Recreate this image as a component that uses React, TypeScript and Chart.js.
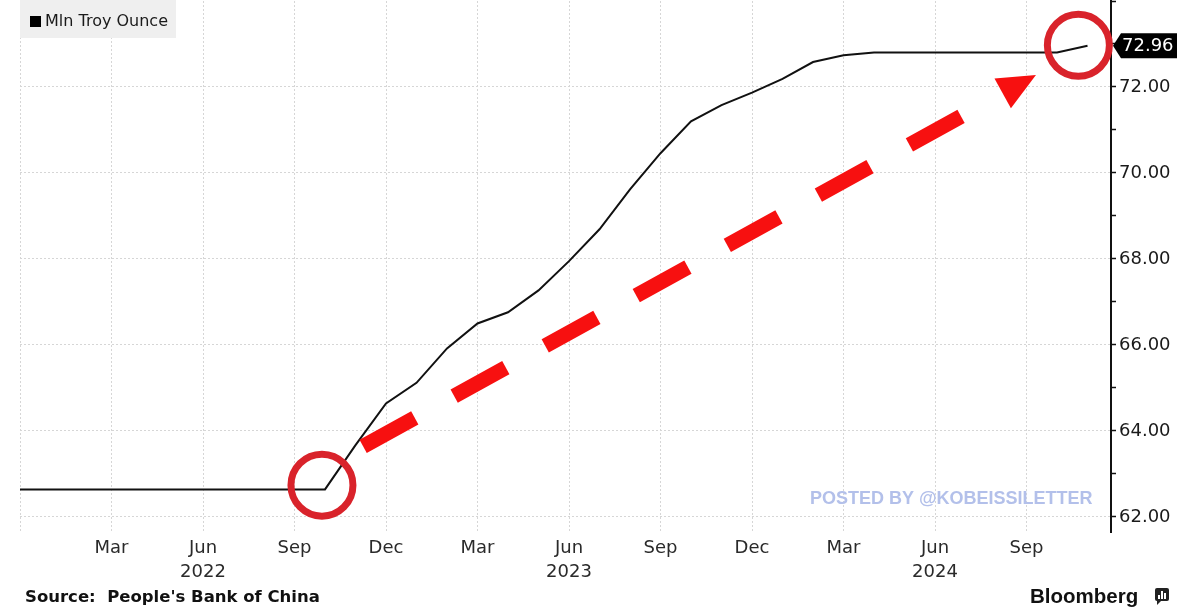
import { useEffect, useRef } from 'react';
import { Chart, registerables } from 'chart.js';

Chart.register(...registerables);

// Monthly gold reserves, Dec 2021 .. Nov 2024 (index 0 = Dec 2021)
const MONTHS = [
  '2021-12', '2022-01', '2022-02', '2022-03', '2022-04', '2022-05', '2022-06',
  '2022-07', '2022-08', '2022-09', '2022-10', '2022-11', '2022-12',
  '2023-01', '2023-02', '2023-03', '2023-04', '2023-05', '2023-06',
  '2023-07', '2023-08', '2023-09', '2023-10', '2023-11', '2023-12',
  '2024-01', '2024-02', '2024-03', '2024-04', '2024-05', '2024-06',
  '2024-07', '2024-08', '2024-09', '2024-10', '2024-11',
];
const HOLDINGS = [
  62.64, 62.64, 62.64, 62.64, 62.64, 62.64, 62.64,
  62.64, 62.64, 62.64, 62.64, 63.67, 64.64,
  65.12, 65.92, 66.5, 66.76, 67.27, 67.95,
  68.69, 69.62, 70.46, 71.2, 71.58, 71.87,
  72.19, 72.58, 72.74, 72.8, 72.8, 72.8,
  72.8, 72.8, 72.8, 72.8, 72.96,
];

const X_TICK_POS = [0, 3, 6, 9, 12, 15, 18, 21, 24, 27, 30, 33];
const X_TICK_LABELS: (string | string[])[] = [
  '', 'Mar', ['Jun', '2022'], 'Sep', 'Dec', 'Mar', ['Jun', '2023'], 'Sep', 'Dec', 'Mar', ['Jun', '2024'], 'Sep',
];
const Y_TICKS = [62, 63, 64, 65, 66, 67, 68, 69, 70, 71, 72, 73, 74];
const Y_LABELED = [62, 64, 66, 68, 70, 72];

const SERIES_NAME = 'Mln Troy Ounce';
const SOURCE_TEXT = "Source:  People's Bank of China";
const BRAND_TEXT = 'Bloomberg';
const WATERMARK = 'POSTED BY @KOBEISSILETTER';

// annotation anchors in data space: [month index, value]
const CIRCLE_START: [number, number] = [9.9, 62.74];
const CIRCLE_END: [number, number] = [34.7, 72.97];
const ARROW_FROM: [number, number] = [11.25, 63.64];
const ARROW_TO: [number, number] = [33.31, 72.28];

const overlay = {
  id: 'overlay',
  afterDraw(chart: any) {
    const { ctx, scales } = chart;
    const xs = scales.x;
    const ys = scales.y;
    const px = (p: [number, number]) => [xs.getPixelForValue(p[0]), ys.getPixelForValue(p[1])];

    ctx.save();

    // series key box
    ctx.fillStyle = '#efefef';
    ctx.fillRect(20, 0, 156, 38);
    ctx.fillStyle = '#000';
    ctx.fillRect(30, 16, 11, 11);
    ctx.fillStyle = '#1a1a1a';
    ctx.font = '16px "DejaVu Sans"';
    ctx.textBaseline = 'middle';
    ctx.textAlign = 'left';
    ctx.fillText(SERIES_NAME, 45, 22);

    // watermark
    ctx.fillStyle = '#b3c0ea';
    ctx.font = 'bold 18px "Liberation Sans"';
    ctx.fillText(WATERMARK, 810, 499);

    // dashed arrow
    const [ax, ay] = px(ARROW_FROM);
    const [bx, by] = px(ARROW_TO);
    const len = Math.hypot(bx - ax, by - ay);
    const ux = (bx - ax) / len;
    const uy = (by - ay) / len;
    const headLen = 38;
    const headHalf = 17;
    const shaftEnd = len - headLen - 5;
    ctx.strokeStyle = '#f71010';
    ctx.lineWidth = 15;
    ctx.lineCap = 'butt';
    const dash = 59;
    const period = 104;
    for (let s = 0; s < shaftEnd; s += period) {
      const e = Math.min(s + dash, shaftEnd);
      ctx.beginPath();
      ctx.moveTo(ax + ux * s, ay + uy * s);
      ctx.lineTo(ax + ux * e, ay + uy * e);
      ctx.stroke();
    }
    const baseX = bx - ux * headLen;
    const baseY = by - uy * headLen;
    ctx.fillStyle = '#f71010';
    ctx.beginPath();
    ctx.moveTo(bx, by);
    ctx.lineTo(baseX - uy * headHalf, baseY + ux * headHalf);
    ctx.lineTo(baseX + uy * headHalf, baseY - ux * headHalf);
    ctx.closePath();
    ctx.fill();

    // highlight circles
    ctx.strokeStyle = '#d9232b';
    ctx.lineWidth = 7;
    for (const c of [CIRCLE_START, CIRCLE_END]) {
      const [cx, cy] = px(c);
      ctx.beginPath();
      ctx.arc(cx, cy, 31, 0, Math.PI * 2);
      ctx.stroke();
    }

    // latest value tag on the axis
    const last = HOLDINGS[HOLDINGS.length - 1];
    const ly = ys.getPixelForValue(last);
    const lx = chart.chartArea.right + 2;
    ctx.fillStyle = '#000';
    ctx.beginPath();
    ctx.moveTo(lx, ly);
    ctx.lineTo(lx + 8, ly - 12.5);
    ctx.lineTo(lx + 64, ly - 12.5);
    ctx.lineTo(lx + 64, ly + 12.5);
    ctx.lineTo(lx + 8, ly + 12.5);
    ctx.closePath();
    ctx.fill();
    ctx.fillStyle = '#fff';
    ctx.font = '18px "DejaVu Sans"';
    ctx.textBaseline = 'middle';
    ctx.fillText(last.toFixed(2), lx + 9, ly + 1);

    // footer
    ctx.fillStyle = '#111';
    ctx.font = 'bold 16.5px "DejaVu Sans"';
    ctx.fillText(SOURCE_TEXT, 25, 598);
    ctx.font = 'bold 20.5px "Liberation Sans"';
    ctx.fillText(BRAND_TEXT, 1030, 597);

    // brand mark
    ctx.fillStyle = '#222';
    ctx.beginPath();
    ctx.roundRect(1155, 588, 14, 13, 2);
    ctx.fill();
    ctx.beginPath();
    ctx.moveTo(1157, 600);
    ctx.lineTo(1162, 600);
    ctx.lineTo(1157, 605);
    ctx.closePath();
    ctx.fill();
    ctx.fillStyle = '#fff';
    ctx.fillRect(1158, 595, 2, 4);
    ctx.fillRect(1161, 591, 2, 8);
    ctx.fillRect(1164, 593, 2, 6);

    ctx.restore();
  },
};

export default function App() {
  const canvasRef = useRef<HTMLCanvasElement>(null);

  useEffect(() => {
    document.body.style.margin = '0';
    const canvas = canvasRef.current;
    if (!canvas) return;

    const chart = new Chart(canvas, {
      type: 'line',
      data: {
        datasets: [
          {
            label: SERIES_NAME,
            data: HOLDINGS.map((v, i) => ({ x: i, y: v })),
            borderColor: '#111',
            borderWidth: 2,
            pointRadius: 0,
            tension: 0,
            fill: false,
          },
        ],
      },
      options: {
        animation: false,
        responsive: false,
        devicePixelRatio: 1,
        layout: { padding: { left: 20, top: 1, right: 0, bottom: 0 } },
        plugins: {
          legend: { display: false },
          tooltip: { enabled: false },
        },
        scales: {
          x: {
            type: 'linear',
            min: 0,
            max: 35.77,
            afterBuildTicks: (scale: any) => {
              scale.ticks = X_TICK_POS.map((v) => ({ value: v }));
            },
            afterFit: (scale: any) => {
              scale.height = 78;
              scale.paddingLeft = 0;
              scale.paddingRight = 0;
            },
            ticks: {
              autoSkip: false,
              maxRotation: 0,
              padding: 4,
              color: '#2a2a2a',
              font: { family: '"DejaVu Sans"', size: 18, lineHeight: 1.33 },
              callback: (value: any) => {
                const i = X_TICK_POS.indexOf(Number(value));
                return i >= 0 ? X_TICK_LABELS[i] : '';
              },
            },
            grid: {
              color: '#d6d6d6',
              lineWidth: 1,
              drawTicks: false,
            },
            border: { display: false, dash: [2, 2] },
          },
          y: {
            position: 'right',
            min: 61.65,
            max: 74,
            afterBuildTicks: (scale: any) => {
              scale.ticks = Y_TICKS.map((v) => ({ value: v }));
            },
            afterFit: (scale: any) => {
              scale.width = 87;
              scale.paddingTop = 0;
              scale.paddingBottom = 0;
            },
            ticks: {
              padding: 3,
              color: '#1a1a1a',
              font: { family: '"DejaVu Sans"', size: 18 },
              callback: (value: any) => (Y_LABELED.includes(Number(value)) ? Number(value).toFixed(2) : ''),
            },
            grid: {
              color: (c: any) =>
                c.tick && Y_LABELED.includes(c.tick.value) ? '#d6d6d6' : 'rgba(0,0,0,0)',
              lineWidth: 1,
              drawTicks: true,
              tickLength: 5,
              tickColor: '#111',
              tickWidth: 1.5,
            },
            border: { display: true, color: '#111', width: 2, dash: [2, 2] },
          },
        },
      },
      plugins: [overlay],
    });

    return () => chart.destroy();
  }, []);

  return (
    <div style={{ width: 1198, height: 610, position: 'relative', background: '#fff' }}>
      <canvas ref={canvasRef} width={1198} height={610} style={{ display: 'block' }} />
    </div>
  );
}
